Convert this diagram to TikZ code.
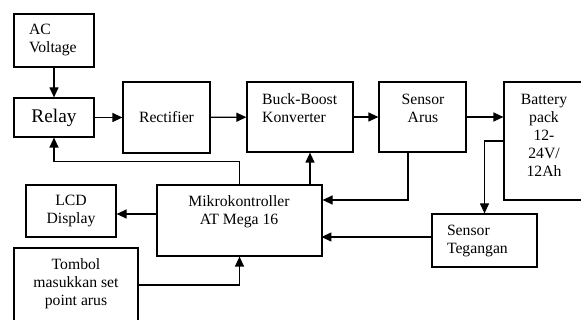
\documentclass[tikz,border=0pt]{standalone}
\usepackage{fontspec}
\setmainfont{Liberation Serif}
\usetikzlibrary{arrows.meta,calc}
\begin{document}
\begin{tikzpicture}[x=1pt,y=-1pt,
 box/.style={draw, line width=1.2pt, inner sep=0pt, font=\fontsize{15.7}{18}\selectfont, align=center},
 txt/.style={inner sep=0pt, font=\fontsize{15.7}{18}\selectfont},
 arr/.style={line width=1.2pt, -{Triangle[length=10pt,width=9pt]}},
]
\useasboundingbox (0,0) rectangle (581,320);
\clip (0,0) rectangle (581,320);
% boxes
\node[box, minimum width=80pt, minimum height=53pt, text width=50pt, inner xsep=15pt, align=left] (ac) at (54,40.5) {AC\\Voltage};
\node[box, minimum width=80pt, minimum height=39pt, font=\fontsize{19.3}{22}\selectfont] (relay) at (54,117.5) {Relay};
\node[box, minimum width=87pt, minimum height=71pt] (rect) at (166.5,117.5) {Rectifier};
\node[box, minimum width=106pt, minimum height=70pt] (buck) at (300,117) {};
\node[box, minimum width=87pt, minimum height=70pt] (arus) at (422.5,117) {};
\node[box, minimum width=81pt, minimum height=118pt] (bat) at (544.5,141) {};
\node[box, minimum width=105pt, minimum height=53pt, text width=75pt, inner xsep=15pt, align=left] (teg) at (484.5,240.5) {Sensor\\Tegangan};
\node[box, minimum width=165pt, minimum height=71pt] (mikro) at (239.5,220.5) {};
\node[box, minimum width=90pt, minimum height=52pt] (lcd) at (71,211) {LCD\\Display};
\node[box, minimum width=124pt, minimum height=82pt] (tombol) at (76,289) {};
% texts
\node[txt, anchor=west, align=left] (buckt) at (262,108) {Buck-Boost\\Konverter};
\node[txt, align=center] (arust) at (423,108) {Sensor\\Arus};
\node[txt, align=center] (batt) at (544,135) {Battery\\pack\\12-\\24V/\\12Ah};
\node[txt, align=center] (mikrot) at (239,212) {Mikrokontroller\\AT Mega 16};
\node[txt, align=center] (tombolt) at (76,284) {Tombol\\masukkan set\\point arus};
% arrows
\draw[arr] (ac) -- (relay);
\draw[arr] (relay) -- (rect);
\draw[arr] (rect) -- (buck);
\draw[arr] (buck) -- (arus);
\draw[arr] (arus.east) -- (arus.east -| bat.west);
\draw[arr] (bat.west) -| (teg.north);
\draw[arr] ($(arus.south)+(-14.5,0)$) |- ($(mikro.east)+(0,-20.5)$);
\draw[arr] ($(teg.west)+(0,-3.5)$) -- ++(-110,0);
\draw[arr] ($(mikro.north)+(70.5,0)$) -- (buck.south -| {$(mikro.north)+(70.5,0)$});
\draw[arr] (mikro.north) -- ++(0,-23) -| (relay.south);
\draw[arr] ($(mikro.west)+(0,-6.5)$) -- ($(lcd.east)+(0,3)$);
\draw[arr] ($(tombol.east)+(0,-4)$) -| (mikro.south);
\end{tikzpicture}
\end{document}
